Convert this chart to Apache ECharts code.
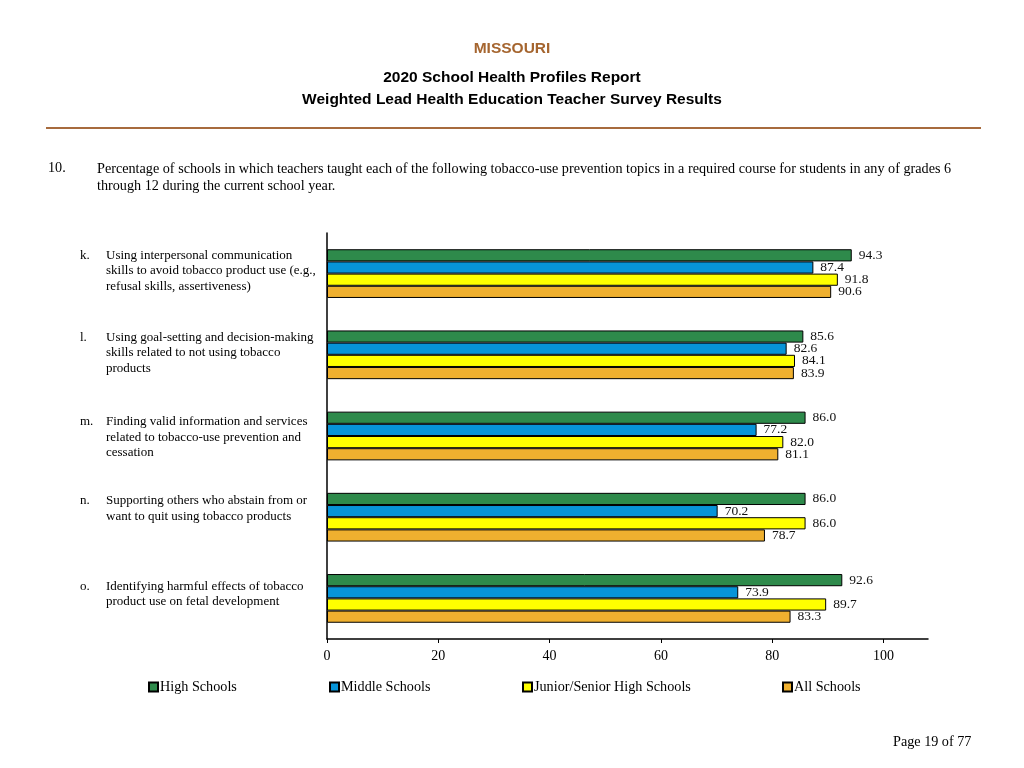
<!DOCTYPE html>
<html>
<head>
<meta charset="utf-8">
<script src="https://cdn.jsdelivr.net/npm/echarts@6/dist/echarts.min.js"></script>
<style>html,body{margin:0;padding:0;background:#fff;}#c{width:1024px;height:768px;}</style>
</head>
<body>
<div id="c"></div>
<script>
const categories = ['k.', 'l.', 'm.', 'n.', 'o.'];
const topicLines = [
  ['Using interpersonal communication', 'skills to avoid tobacco product use (e.g.,', 'refusal skills, assertiveness)'],
  ['Using goal-setting and decision-making', 'skills related to not using tobacco', 'products'],
  ['Finding valid information and services', 'related to tobacco-use prevention and', 'cessation'],
  ['Supporting others who abstain from or', 'want to quit using tobacco products'],
  ['Identifying harmful effects of tobacco', 'product use on fetal development']
];
const seriesNames = ['High Schools', 'Middle Schools', 'Junior/Senior High Schools', 'All Schools'];
const highSchools = [94.3, 85.6, 86.0, 86.0, 92.6];
const middleSchools = [87.4, 82.6, 77.2, 70.2, 73.9];
const juniorSenior = [91.8, 84.1, 82.0, 86.0, 89.7];
const allSchools = [90.6, 83.9, 81.1, 78.7, 83.3];
const xTicks = [0, 20, 40, 60, 80, 100];

const colors = ['#2E8A4B', '#0794D8', '#FFFF00', '#EFB02F'];
const seriesValues = [highSchools, middleSchools, juniorSenior, allSchools];
const labelShift = [-3, -2, 1.5, -8.5, -4.5];
const serif = 'Liberation Serif';
const sans = 'Liberation Sans';

const chart = echarts.init(document.getElementById('c'));

const richStyles = {
  l: { width: 26, align: 'left', fontFamily: serif, fontSize: 13, color: '#000', lineHeight: 15.5 },
  t: { fontFamily: serif, align: 'left', fontSize: 13, color: '#000', lineHeight: 15.5 }
};

const yData = categories.map((c, i) => {
  const d = labelShift[i];
  const pad = d < 0 ? [0, 0, -2 * d, 0] : [2 * d, 0, 0, 0];
  return { value: c, textStyle: {
    padding: pad, align: 'left', verticalAlign: 'middle',
    fontFamily: serif, fontSize: 13, color: '#000', lineHeight: 15.5, rich: richStyles
  } };
});

const series = seriesNames.map((name, i) => ({
  name: name,
  type: 'bar',
  data: seriesValues[i],
  barGap: '0%',
  barCategoryGap: '40%',
  itemStyle: { color: colors[i], borderColor: '#000', borderWidth: 1 },
  label: {
    show: true, position: 'right', distance: 7,
    fontFamily: serif, fontSize: 13.5, color: '#111',
    formatter: p => p.value.toFixed(1)
  },
  emphasis: { disabled: true }
}));

const legendLeft = [148, 329, 522, 782];
const legends = seriesNames.map((n, i) => ({
  data: [{ name: n, icon: 'rect' }], left: legendLeft[i], top: 680, padding: 0,
  itemWidth: 9, itemHeight: 9, itemGap: 0,
  textStyle: { fontFamily: serif, fontSize: 14.2, color: '#000', padding: [0, 0, 0, -3] },
  selectedMode: false
}));

chart.setOption({
  animation: false,
  backgroundColor: '#fff',
  title: [
    { text: 'MISSOURI', left: 'center', top: 41, padding: 0,
      textStyle: { fontFamily: sans, fontWeight: 'bold', fontSize: 15.5, color: '#A5652F' } },
    { text: '2020 School Health Profiles Report', left: 'center', top: 70, padding: 0,
      textStyle: { fontFamily: sans, fontWeight: 'bold', fontSize: 15.5, color: '#000' } },
    { text: 'Weighted Lead Health Education Teacher Survey Results', left: 'center', top: 92, padding: 0,
      textStyle: { fontFamily: sans, fontWeight: 'bold', fontSize: 15.5, color: '#000' } },
    { text: '10.', left: 48, top: 161, padding: 0,
      textStyle: { fontFamily: serif, fontWeight: 'normal', fontSize: 14.2, color: '#000' } },
    { text: 'Percentage of schools in which teachers taught each of the following tobacco-use prevention topics in a required course for students in any of grades 6\nthrough 12 during the current school year.',
      left: 97, top: 161, padding: 0,
      textStyle: { fontFamily: serif, fontWeight: 'normal', fontSize: 14.2, lineHeight: 17, color: '#000' } },
    { text: 'Page 19 of 77', left: 893, top: 735, padding: 0,
      textStyle: { fontFamily: serif, fontWeight: 'normal', fontSize: 14.2, color: '#000' } }
  ],
  graphic: [
    { type: 'line', shape: { x1: 46, y1: 128, x2: 981, y2: 128 },
      style: { stroke: '#A76B3E', lineWidth: 2 } }
  ],
  legend: legends,
  grid: { left: 327, right: 96, top: 233, bottom: 129, containLabel: false, outerBoundsMode: 'none' },
  xAxis: {
    type: 'value', min: 0, max: 108, interval: 20,
    axisLine: { show: true, lineStyle: { color: '#000', width: 1.5 } },
    axisTick: { show: true, length: 4, customValues: xTicks, lineStyle: { color: '#000' } },
    axisLabel: { customValues: xTicks, fontFamily: serif, fontSize: 14, color: '#000', margin: 10 },
    splitLine: { show: false }
  },
  yAxis: {
    type: 'category', inverse: true, data: yData,
    axisLine: { show: true, lineStyle: { color: '#000', width: 1.5 } },
    axisTick: { show: false },
    axisLabel: {
      align: 'left', margin: 247, verticalAlign: 'middle',
      fontFamily: serif, fontSize: 13, color: '#000', lineHeight: 15.5,
      formatter: (v, idx) => topicLines[idx].map((ln, j) => '{l|' + (j === 0 ? v : '\u00a0') + '}{t|' + ln + '}').join('\n'),
      rich: richStyles
    }
  },
  series: series
});
</script>
</body>
</html>
